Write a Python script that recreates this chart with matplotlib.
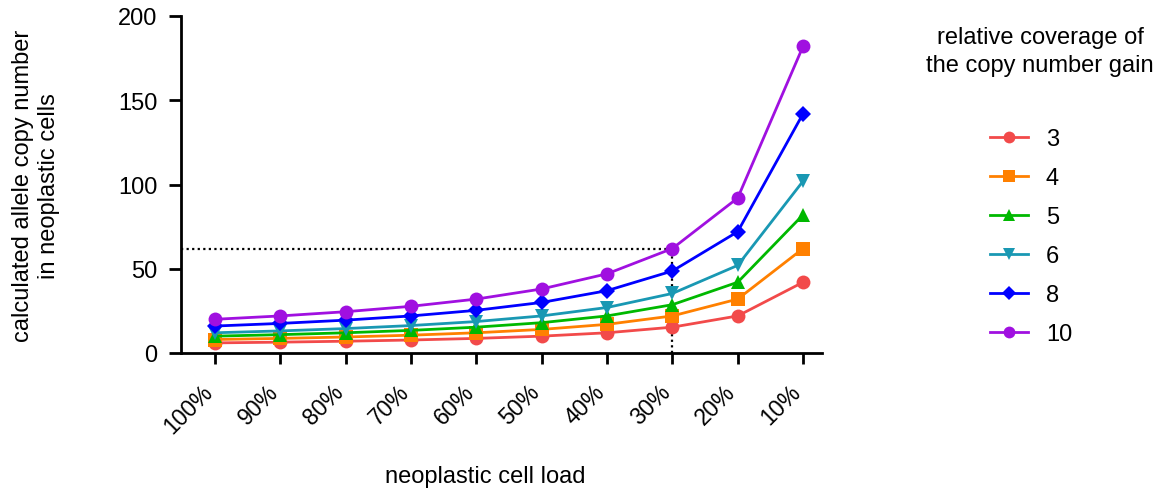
import matplotlib
matplotlib.use("Agg")
import matplotlib.pyplot as plt
from matplotlib.transforms import ScaledTranslation

plt.rcParams['font.family'] = ['Liberation Sans', 'DejaVu Sans']

# neoplastic cell load (x categories)
loads = ["100%", "90%", "80%", "70%", "60%", "50%", "40%", "30%", "20%", "10%"]

# calculated allele copy number per relative coverage of the gain
cov3 = [6, 6.44, 7, 7.71, 8.67, 10, 12, 15.33, 22, 42]
cov4 = [8, 8.67, 9.5, 10.57, 12, 14, 17, 22, 32, 62]
cov5 = [10, 10.89, 12, 13.43, 15.33, 18, 22, 28.67, 42, 82]
cov6 = [12, 13.11, 14.5, 16.29, 18.67, 22, 27, 35.33, 52, 102]
cov8 = [16, 17.56, 19.5, 22, 25.33, 30, 37, 48.67, 72, 142]
cov10 = [20, 22, 24.5, 27.71, 32, 38, 47, 62, 92, 182]

labels = ["3", "4", "5", "6", "8", "10"]
series = [cov3, cov4, cov5, cov6, cov8, cov10]
colors = ["#f24a4a", "#ff8000", "#00b800", "#1998b3", "#0000ff", "#a010e0"]
markers = ["o", "s", "^", "v", "D", "o"]
msizes = [10, 9.5, 10, 10, 8.5, 10]

# reference point highlighted by guide lines
ref_idx = 7
ref_val = cov10[ref_idx]

fig = plt.figure(figsize=(11.6, 4.89), dpi=100)
ax = fig.add_axes([181 / 1160, 1 - 354 / 489, (822 - 181) / 1160, (354 - 17) / 489])

x = list(range(len(loads)))
handles = []
for vals, lab, c, m, ms in zip(series, labels, colors, markers, msizes):
    ln, = ax.plot(x, vals, color=c, marker=m, markersize=ms, linewidth=2,
                  markeredgewidth=0, label=lab, zorder=3, clip_on=False)
    handles.append(ln)

ax.plot([-0.52, ref_idx], [ref_val, ref_val], color="black", linestyle=(0, (1, 1.5)),
        linewidth=1.6, zorder=2, clip_on=False)
ax.plot([ref_idx, ref_idx], [0, ref_val], color="black", linestyle=(0, (1, 1.5)),
        linewidth=1.6, zorder=2)

ax.set_xlim(-0.52, 9.29)
ax.set_ylim(0, 200)
ax.set_yticks([0, 50, 100, 150, 200])
ax.set_xticks(x)
ax.set_xticklabels(loads, rotation=45, ha="right", va="center", rotation_mode="anchor",
                   fontsize=16.5)
ax.tick_params(axis="y", labelsize=17, length=9, width=2, pad=8)
ax.tick_params(axis="x", length=8, width=2, pad=15)

shift = ScaledTranslation(-4 / 72, -2 / 72, fig.dpi_scale_trans)
for lbl in ax.get_xticklabels():
    lbl.set_transform(lbl.get_transform() + shift)

for side in ("top", "right"):
    ax.spines[side].set_visible(False)
for side in ("left", "bottom"):
    ax.spines[side].set_linewidth(2)

fig.text(36 / 1160, 1 - 186 / 489, "calculated allele copy number\nin neoplastic cells",
         fontsize=17, rotation=90, ha="center", va="center", linespacing=1.2)
fig.text(485 / 1160, 1 - 477 / 489, "neoplastic cell load", fontsize=17,
         ha="center", va="center")

fig.text(1040 / 1160, 1 - 52 / 489, "relative coverage of\nthe copy number gain",
         fontsize=17, ha="center", va="center", linespacing=1.3)

leg = fig.legend(handles=handles, loc="upper left", bbox_to_anchor=(981 / 1160, 1 - 120 / 489),
                 frameon=False, fontsize=17, handlelength=1.6, handletextpad=0.75,
                 labelspacing=0.72, borderaxespad=0, markerscale=0.85)

fig.savefig("out.png", dpi=100)
